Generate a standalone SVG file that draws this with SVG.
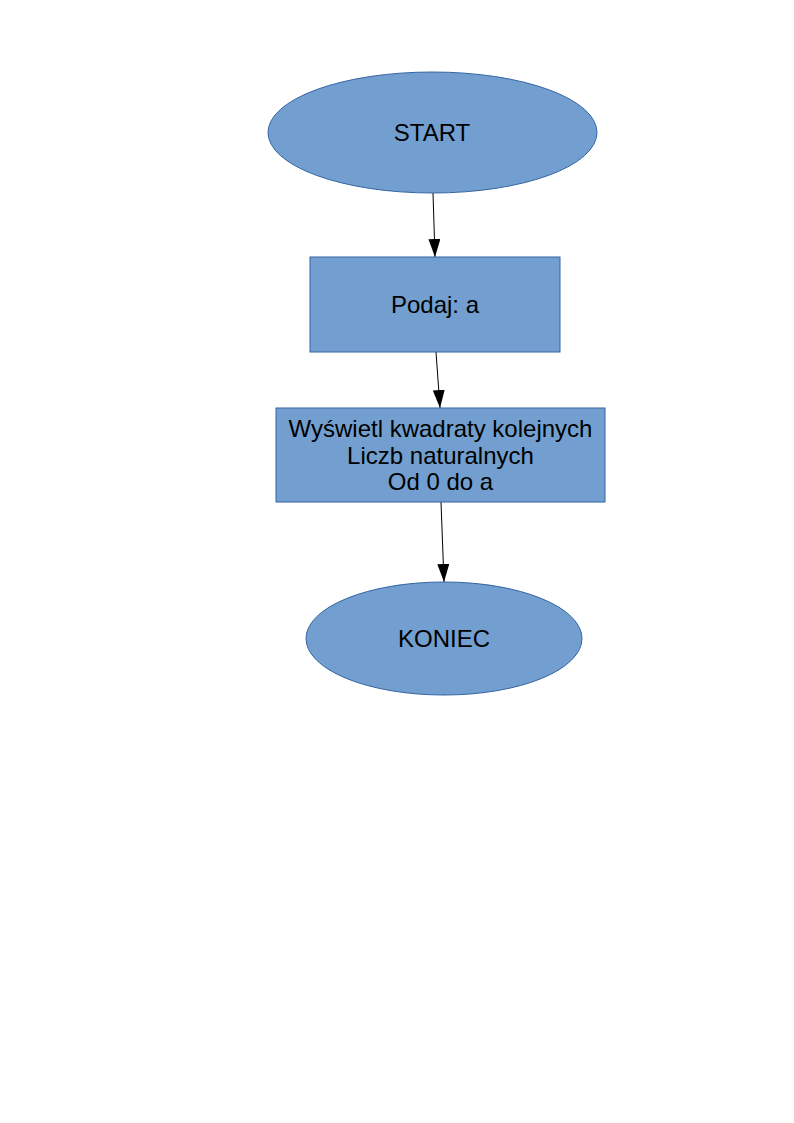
<svg xmlns="http://www.w3.org/2000/svg" width="794" height="1123" viewBox="0 0 794 1123">
<style>
.shape{fill:#729fcf;stroke:#3465a4;stroke-width:1}
.lbl{font-family:"Liberation Sans",Arial,sans-serif;font-size:24px;fill:#000;text-anchor:middle}
.conn{stroke:#000;stroke-width:1;fill:none;marker-end:url(#arr)}
</style>
<defs>
<marker id="arr" viewBox="0 0 18 12" refX="18" refY="6" markerWidth="18" markerHeight="12" markerUnits="userSpaceOnUse" orient="auto">
<path d="M0,0 L18,6 L0,12 Z" fill="#000"/>
</marker>
</defs>
<rect width="794" height="1123" fill="#fff"/>
<g id="connectors">
<line class="conn" x1="433" y1="193" x2="435" y2="257"/>
<line class="conn" x1="436" y1="352" x2="440" y2="408"/>
<line class="conn" x1="441" y1="502" x2="444" y2="582"/>
</g>
<g id="start">
<ellipse class="shape" cx="432.5" cy="132.5" rx="164.5" ry="60.5"/>
<text class="lbl" x="432" y="141">START</text>
</g>
<g id="input">
<rect class="shape" x="310" y="257" width="250" height="95"/>
<text class="lbl" x="435" y="313">Podaj: a</text>
</g>
<g id="process">
<rect class="shape" x="276" y="408" width="329" height="94"/>
<text class="lbl" x="440.5" y="437">Wyświetl kwadraty kolejnych</text>
<text class="lbl" x="440.5" y="463.5">Liczb naturalnych</text>
<text class="lbl" x="440.5" y="490">Od 0 do a</text>
</g>
<g id="end">
<ellipse class="shape" cx="444" cy="638.5" rx="138" ry="56.5"/>
<text class="lbl" x="444" y="647">KONIEC</text>
</g>
</svg>
